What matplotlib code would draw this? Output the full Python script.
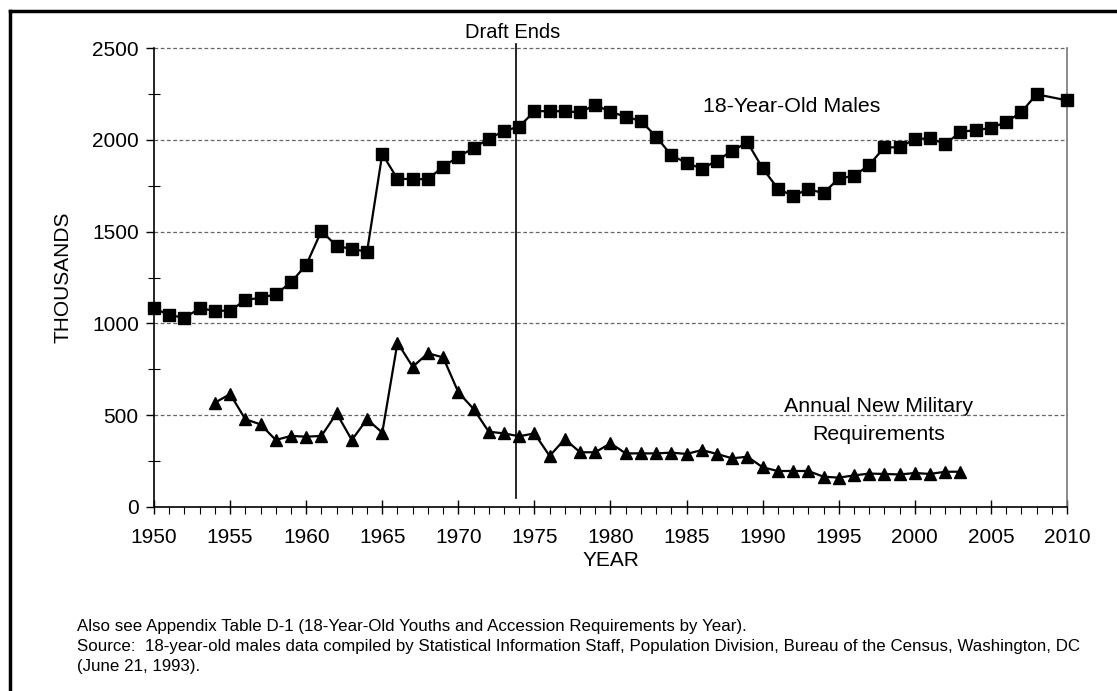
import matplotlib.pyplot as plt
import numpy as np
from matplotlib.lines import Line2D

# 18-year-old males (thousands)
male_years = list(range(1950, 2009)) + [2010]
male_vals = [1082, 1046, 1030, 1082, 1069, 1069, 1127, 1140, 1158, 1224,
             1318, 1503, 1422, 1405, 1391, 1923, 1787, 1787, 1785, 1854,
             1908, 1955, 2006, 2048, 2072, 2155, 2157, 2155, 2150, 2190,
             2152, 2126, 2103, 2017, 1916, 1874, 1843, 1886, 1941, 1986,
             1845, 1734, 1694, 1732, 1709, 1790, 1803, 1863, 1959, 1959,
             2004, 2008, 1977, 2043, 2053, 2064, 2097, 2150, 2248, 2215]

# annual new military requirements (thousands)
mil_years = list(range(1954, 2004))
mil_vals = [568, 615, 478, 450, 365, 387, 383, 387, 510, 365,
            478, 405, 895, 764, 837, 815, 625, 534, 410, 401,
            385, 401, 278, 370, 298, 298, 347, 292, 292, 292,
            296, 289, 310, 289, 265, 274, 216, 196, 196, 196,
            165, 160, 172, 182, 180, 177, 185, 180, 192, 192]

draft_end = 1973.8
plt.rcParams['font.family'] = ['Liberation Sans', 'DejaVu Sans']

fig = plt.figure(figsize=(11.17, 6.91), dpi=100)
ax = fig.add_axes([0.1379, 0.2663, 0.9552 - 0.1379, 0.9305 - 0.2663])

for yv in [500, 1000, 1500, 2000, 2500]:
    ax.axhline(yv, color='#666666', lw=0.9, ls=(0, (3, 2)), zorder=1, clip_on=False)

ax.plot(male_years, male_vals, color='black', lw=1.6, marker='s', ms=8,
        zorder=3, clip_on=False)
ax.plot(mil_years, mil_vals, color='black', lw=1.6, marker='^', ms=8.5,
        zorder=3, clip_on=False)

ax.plot([draft_end, draft_end], [50, 2520], color='black', lw=1.2, clip_on=False, zorder=2)
ax.text(draft_end - 0.2, 2535, 'Draft Ends', ha='center', va='bottom', fontsize=14.5)

ax.text(1991.9, 2180, '18-Year-Old Males', ha='center', va='center', fontsize=15.4)
ax.text(1997.6, 545, 'Annual New Military', ha='center', va='center', fontsize=15.4, zorder=0)
ax.text(1997.6, 395, 'Requirements', ha='center', va='center', fontsize=15.4)

ax.set_xlim(1950, 2010)
ax.set_ylim(0, 2500)
ax.set_xticks(np.arange(1950, 2011, 5))
ax.set_xticks(np.arange(1950, 2011, 1), minor=True)
ax.set_yticks(np.arange(0, 2501, 500))
ax.set_yticks(np.arange(250, 2500, 500), minor=True)
ax.tick_params(axis='x', which='major', direction='inout', length=10, width=1, labelsize=15, pad=10)
ax.tick_params(axis='x', which='minor', direction='out', length=5, width=0.8)
ax.tick_params(axis='y', which='major', direction='out', length=6, width=1, labelsize=15, pad=5)
ax.tick_params(axis='y', which='minor', direction='inout', length=8, width=0.8)

ax.spines['top'].set_visible(False)
ax.spines['right'].set_color('#777777')
ax.spines['right'].set_linewidth(1.2)
ax.spines['left'].set_linewidth(1.2)
ax.spines['bottom'].set_linewidth(1.2)

ax.set_xlabel('YEAR', fontsize=15, labelpad=3)
ax.set_ylabel('THOUSANDS', fontsize=15, labelpad=14)

# outer frame (left and top edges)
fig.add_artist(Line2D([10 / 1117, 10 / 1117], [0, 1 - 11 / 691], color='black', lw=2.5))
fig.add_artist(Line2D([10 / 1117, 1], [1 - 11 / 691, 1 - 11 / 691], color='black', lw=2.5))

notes = ['Also see Appendix Table D-1 (18-Year-Old Youths and Accession Requirements by Year).',
         'Source:  18-year-old males data compiled by Statistical Information Staff, Population Division, Bureau of the Census, Washington, DC',
         '(June 21, 1993).']
for i, s in enumerate(notes):
    fig.text(77 / 1117, 1 - (627 + 20 * i) / 691, s, ha='left', va='center', fontsize=12.2)

fig.savefig('out.png', dpi=100)
